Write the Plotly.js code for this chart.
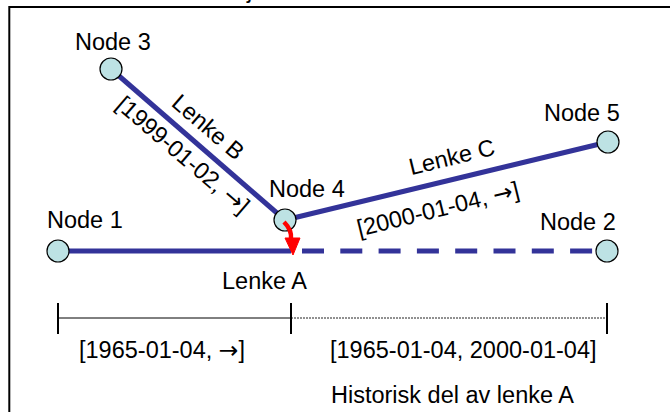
<!DOCTYPE html>
<html>
<head>
<meta charset="utf-8">
<script src="https://cdn.plot.ly/plotly-3.0.1.min.js"></script>
<style>html,body{margin:0;padding:0;background:#fff;}#chart{width:670px;height:412px;}</style>
</head>
<body>
<div id="chart"></div>
<script>
// ---- data ----
const nodeNames = ['Node 1', 'Node 2', 'Node 3', 'Node 4', 'Node 5'];
const nodeX = [58, 607, 111, 285, 608];
const nodeY = [251, 251, 69, 220, 142];
// links as [from, to] node indices
const linkNames = ['Lenke A', 'Lenke B', 'Lenke C'];
const linkFrom = [0, 2, 3];
const linkTo = [1, 3, 4];
const linkPeriods = ['[1965-01-04, →]', '[1999-01-02, →]', '[2000-01-04, →]'];
const historicPeriod = '[1965-01-04, 2000-01-04]';
const historicLabel = 'Historisk del av lenke A';
const splitX = 291; // where link A is split (Node 4 projection)

// ---- styles ----
const LINK_COLOR = '#333399';
const NODE_FILL = '#bde2e4';
const FONT = {family: 'Liberation Sans, Arial, sans-serif', size: 23.5, color: '#000'};

function fmt(t) {
  return t.replace('→', '<span style="font-family:DejaVu Sans">→</span>');
}

const traces = [];
// Link A current (solid) part
traces.push({x: [nodeX[0], splitX], y: [nodeY[0], nodeY[0]], mode: 'lines',
  line: {color: LINK_COLOR, width: 5}, hoverinfo: 'skip'});
// Link A historic (dashed) part
traces.push({x: [splitX + 11, nodeX[1]], y: [nodeY[1], nodeY[1]], mode: 'lines',
  line: {color: LINK_COLOR, width: 5, dash: '22px,16.3px'}, hoverinfo: 'skip'});
// Links B and C
for (let i = 1; i < 3; i++) {
  traces.push({x: [nodeX[linkFrom[i]], nodeX[linkTo[i]]], y: [nodeY[linkFrom[i]], nodeY[linkTo[i]]],
    mode: 'lines', line: {color: LINK_COLOR, width: 5}, hoverinfo: 'skip'});
}
// Timeline
const tlY = 318;
traces.push({x: [nodeX[0], splitX], y: [tlY, tlY], mode: 'lines', line: {color: '#000', width: 1}, hoverinfo: 'skip'});
traces.push({x: [splitX, nodeX[1]], y: [tlY, tlY], mode: 'lines', line: {color: '#222', width: 1, dash: '2px,1px'}, hoverinfo: 'skip'});
[nodeX[0], splitX, nodeX[1]].forEach(function (tx) {
  traces.push({x: [tx, tx], y: [tlY - 15, tlY + 16], mode: 'lines', line: {color: '#000', width: 2}, hoverinfo: 'skip'});
});
// Nodes
traces.push({x: nodeX, y: nodeY, mode: 'markers',
  marker: {size: 22, color: NODE_FILL, line: {color: '#000', width: 1.2}}, hoverinfo: 'skip'});

// Red arrow from Node 4 down to link A
const ax0 = nodeX[3] - 1, ay0 = nodeY[3] + 2;
const tipX = splitX + 2, tipY = nodeY[0] + 4;
const shapes = [
  {type: 'line', xref: 'x', yref: 'y', x0: 9.3, x1: 675, y0: 7, y1: 7, line: {color: '#000', width: 2}},
  {type: 'line', xref: 'x', yref: 'y', x0: 9.3, x1: 9.3, y0: 6, y1: 420, line: {color: '#000', width: 2}},
  {type: 'path', xref: 'x', yref: 'y',
    path: `M ${ax0} ${ay0} Q ${ax0 + 8} ${ay0 + 8} ${tipX - 2} ${tipY - 16}`,
    line: {color: '#ff0000', width: 4.5}},
  {type: 'path', xref: 'x', yref: 'y',
    path: `M ${tipX - 8} ${tipY - 17} L ${tipX + 7} ${tipY - 17} L ${tipX} ${tipY} Z`,
    fillcolor: '#ff0000', line: {color: '#ff0000', width: 1}}
];

function ann(text, x, y, angle) {
  return {text: fmt(text), x: x, y: y, xref: 'x', yref: 'y', showarrow: false,
    xanchor: 'center', yanchor: 'middle', textangle: angle || 0, font: FONT};
}
const annotations = [
  ann(nodeNames[0], 85, 220),
  ann(nodeNames[1], 578, 222),
  ann(nodeNames[2], 113, 42),
  ann(nodeNames[3], 307, 189),
  ann(nodeNames[4], 582, 113),
  ann(linkNames[0], 264, 281),
  ann(linkNames[1], 208, 127, 40.6),
  ann(linkPeriods[1], 183, 155, 40.6),
  ann(linkNames[2], 452, 157, -13.8),
  ann(linkPeriods[2], 438, 209, -13.8),
  ann(linkPeriods[0], 162, 350),
  ann(historicPeriod, 463, 350),
  ann(historicLabel, 452, 395),
  {text: 'j', x: 249, y: 5, xref: 'x', yref: 'y', showarrow: false, xanchor: 'center', yanchor: 'bottom', font: FONT}
];

const layout = {
  width: 670, height: 412,
  margin: {l: 0, r: 0, t: 0, b: 0, pad: 0},
  paper_bgcolor: '#fff', plot_bgcolor: '#fff',
  showlegend: false,
  xaxis: {range: [0, 670], visible: false, fixedrange: true},
  yaxis: {range: [412, 0], visible: false, fixedrange: true},
  shapes: shapes,
  annotations: annotations
};
Plotly.newPlot('chart', traces, layout, {displayModeBar: false, staticPlot: true});
</script>
</body>
</html>
